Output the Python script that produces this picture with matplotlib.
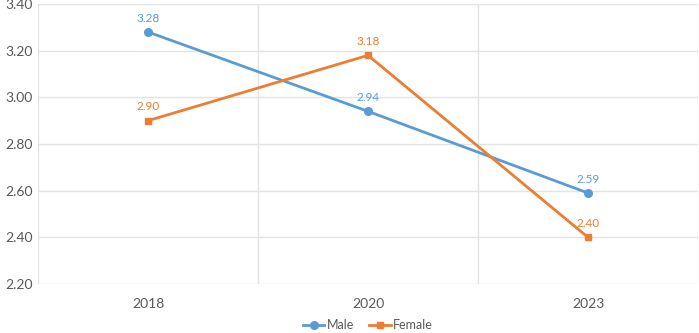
import numpy as np
import matplotlib
matplotlib.use("Agg")
import matplotlib.pyplot as plt

plt.rcParams['font.family'] = ['Lato', 'DejaVu Sans']

years = ['2018', '2020', '2023']
male = [3.28, 2.94, 2.59]
female = [2.90, 3.18, 2.40]
yticks = [2.20, 2.40, 2.60, 2.80, 3.00, 3.20, 3.40]

c_male = '#5B9BD5'
c_female = '#ED7D31'
grid_c = '#E3E3E3'

fig = plt.figure(figsize=(6.99, 3.33), dpi=100)
ax = fig.add_axes([38/699, 1-284/333, 660/699, 280/333])

x = np.arange(len(years))
ax.plot(x, male, color=c_male, lw=2, marker='o', ms=5.5, label='Male', zorder=3)
ax.plot(x, female, color=c_female, lw=2, marker='s', ms=5, label='Female', zorder=3)

for xi, v in zip(x, male):
    ax.annotate('%.2f' % v, (xi, v), xytext=(0, 6), textcoords='offset points',
                ha='center', va='bottom', color=c_male, fontsize=8.5)
for xi, v in zip(x, female):
    ax.annotate('%.2f' % v, (xi, v), xytext=(0, 6), textcoords='offset points',
                ha='center', va='bottom', color=c_female, fontsize=8.5)

ax.set_xlim(-0.5, 2.5)
ax.set_ylim(2.2, 3.4)
ax.set_yticks(yticks)
ax.set_yticklabels(['%.2f' % t for t in yticks])
ax.set_xticks(x)
ax.set_xticklabels(years)

# horizontal gridlines + vertical separators between categories
for t in yticks:
    ax.axhline(t, color=grid_c, lw=1, zorder=0)
for b in [-0.5, 0.5, 1.5, 2.5]:
    ax.axvline(b, color=grid_c, lw=1, zorder=0)

for s in ax.spines.values():
    s.set_visible(False)
ax.tick_params(length=0, colors='#595959', labelsize=10)
ax.tick_params(axis='x', pad=10)
ax.tick_params(axis='y', pad=4)

ax.legend(loc='lower center', bbox_to_anchor=(0.5, -0.19), ncol=2, frameon=False,
          fontsize=9, handlelength=1.7, columnspacing=1.2, handletextpad=0.2,
          borderpad=0, labelcolor='#595959')

fig.savefig('out.png', dpi=100)
